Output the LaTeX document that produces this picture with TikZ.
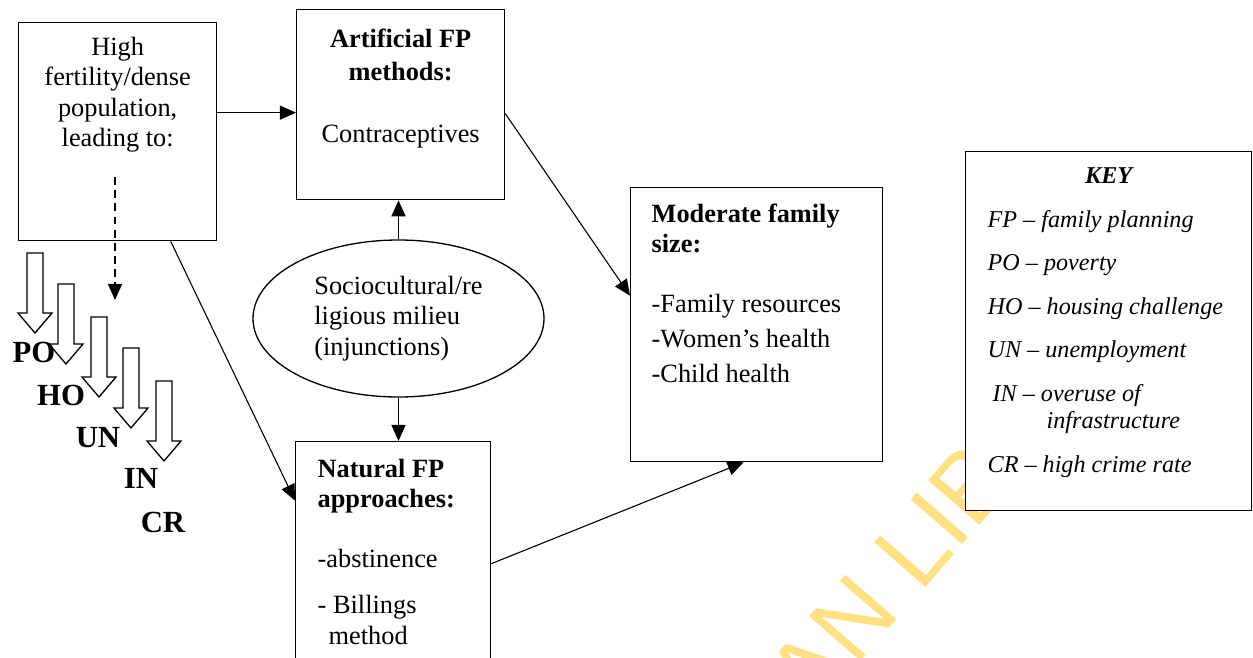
\documentclass[tikz,border=0pt]{standalone}
\usepackage{fontspec}
\setmainfont{Liberation Serif}
\newfontfamily\wmfont{Liberation Sans}
\usepackage{tikz}
\usetikzlibrary{shapes.geometric,arrows.meta,calc}
\definecolor{wmyellow}{RGB}{255,224,130}
\newlength\px
\setlength\px{0.016cm}

\begin{document}
\begin{tikzpicture}[
        x=0.016cm, y=-0.016cm,
        font=\fontsize{12}{13.8}\selectfont,
        box/.style={draw, line width=0.6pt, fill=white, inner sep=0pt, anchor=north west},
        oval/.style={draw, ellipse, line width=0.6pt, fill=white, inner sep=0pt, minimum width=291\px, minimum height=157\px},
        arr/.style={line width=0.5pt, -{Triangle[length=7.3pt,width=6.4pt]}},
        dasharr/.style={arr, dash pattern=on 3.6pt off 2.4pt},
        lbl/.style={font=\fontsize{14}{16}\selectfont\bfseries, inner sep=0pt, anchor=base},
        wmark/.style={font=\wmfont\fontsize{45}{45}\selectfont, text=wmyellow, inner sep=0pt, anchor=base west, rotate=49},
        downarrow/.pic={\draw[line width=0.6pt, fill=white] (-8,0) -- (-8,60) -- (-17,60) -- (0,80) -- (17,60) -- (8,60) -- (8,0) -- cycle;}
    ]
    \useasboundingbox (0,0) rectangle (1253,657);
    \clip (0,0) rectangle (1253,657);

    \node[wmark] (wm) at (812,718) {AN LIB};

    \node[box] (high) at (18,22) {\parbox[c][218\px][t]{198\px}{\centering\rule{0pt}{33\px}High\\fertility/dense\\population,\\leading to:}};
    \node[box] (art) at (296,9) {\parbox[c][190\px][t]{208\px}{\centering\rule{0pt}{38\px}\textbf{Artificial FP}\\[2.7\px]\textbf{methods:}\\[31.7\px]Contraceptives}};
    \node[oval, align=left] (milieu) at (398.5,318.5) {Sociocultural/re\\ligious milieu\\(injunctions)};
    \node[box, inner xsep=22\px] (nat) at (295,441) {\parbox[c][244\px][t]{151\px}{\raggedright\rule{0pt}{36\px}\textbf{Natural FP}\\\textbf{approaches:}\\[29.7\px]-abstinence\\[15.7\px]- Billings\\\hspace*{11\px}method}};
    \node[box, inner xsep=21\px] (mod) at (630,187) {\parbox[c][274\px][t]{210\px}{\raggedright\rule{0pt}{35\px}\textbf{Moderate family}\\\textbf{size:}\\[29.7\px]-Family resources\\[4.7\px]-Women's health\\[4.7\px]-Child health}};
    \node[box, inner xsep=22\px] (key) at (965,151) {\parbox[c][359\px][t]{242\px}{\fontsize{11}{12.65}\selectfont\itshape\raggedright\rule{0pt}{32\px}\makebox[242\px]{\bfseries KEY}\\[15.7\px]FP -- family planning\\[15.7\px]PO -- poverty\\[15.7\px]HO -- housing challenge\\[15.7\px]UN -- unemployment\\[15.7\px]\hspace*{5\px}IN -- overuse of\\\hspace*{59\px}infrastructure\\[15.7\px]CR -- high crime rate}};

    \pic at (35,253) {downarrow};
    \pic at (66,284) {downarrow};
    \pic at (99,317) {downarrow};
    \pic at (131,348) {downarrow};
    \pic at (164,381) {downarrow};

    \node[lbl] (po) at (34,362) {PO};
    \node[lbl] (ho) at (61,405) {HO};
    \node[lbl] (un) at (98,447) {UN};
    \node[lbl] (inf) at (141,488) {IN};
    \node[lbl] (cr) at (163,532) {CR};

    \coordinate (hx) at ($(high.east)+(0,-19)$);
    \draw[arr] (hx) -- (hx -| art.west);
    \draw[arr] ($(high.south)+(53,0)$) -- ($(nat.west)+(0,-63)$);
    \draw[arr] (milieu.north) -- (milieu.north |- art.south);
    \draw[arr] (milieu.south) -- (milieu.south |- nat.north);
    \draw[arr] ($(art.east)+(0,9)$) -- ($(mod.west)+(0,-29)$);
    \draw[arr] (nat.east) -- ($(mod.south)+(-13,0)$);
    \coordinate (dtop) at (115,177);
    \coordinate (dend) at (115,300);
    \draw[dasharr] (dtop) -- (dend);
\end{tikzpicture}
\end{document}
